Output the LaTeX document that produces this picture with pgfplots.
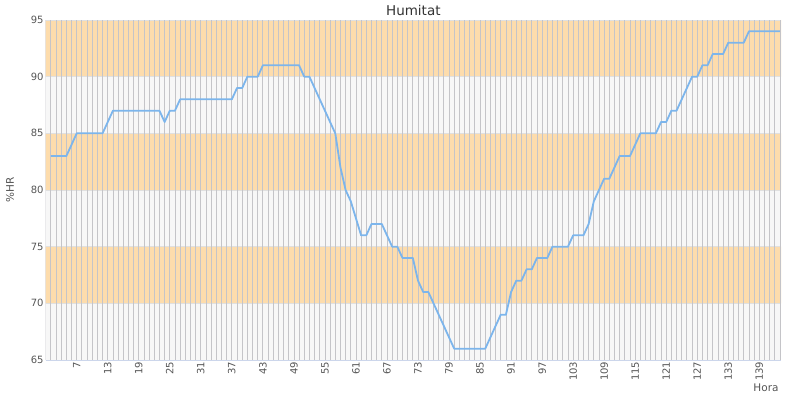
\documentclass[border=0pt]{standalone}
\usepackage{fontspec}
\setmainfont{DejaVu Sans}
\usepackage{pgfplots}
\pgfplotsset{compat=1.18}
\definecolor{bandorange}{RGB}{253,220,172}
\definecolor{bandgray}{RGB}{247,247,247}
\definecolor{vgrid}{RGB}{196,196,200}
\definecolor{hgrid}{RGB}{224,224,224}
\definecolor{linecol}{HTML}{7CB5EC}
\definecolor{titlecol}{HTML}{333333}
\definecolor{labcol}{HTML}{555555}
\definecolor{axiscol}{RGB}{204,214,235}
\begin{document}
\begin{tikzpicture}
\useasboundingbox (-45.7pt,-40pt) rectangle (754.3pt,360pt);
\begin{axis}[
  scale only axis,
  width=735.3pt, height=340pt,
  at={(0pt,0pt)}, anchor=south west,
  xmin=1, xmax=143.2, ymin=65, ymax=95,
  axis background/.style={fill=bandgray},
  axis line style={draw=none},
  xtick={7,13,...,139},
  ytick={65,70,...,95},
  major tick length=0pt,
  /pgf/number format/assume math mode=true,
  every tick label/.append style={font=\fontsize{10}{12}\selectfont, text=labcol},
  xticklabel style={rotate=90, anchor=east, inner sep=1.5pt},
  yticklabel style={anchor=east, inner sep=0pt, xshift=-2pt},
  title={Humitat},
  title style={at={(axis description cs:0.5,1)}, anchor=center, yshift=3.5pt, font=\fontsize{13.5}{15}\selectfont, text=titlecol},
  xlabel={Hora},
  xlabel style={at={(axis description cs:0.9796,-0.0824)}, anchor=center, font=\fontsize{10.5}{12}\selectfont, text=labcol},
  ylabel={\%HR},
  ylabel style={at={(axis description cs:-0.0486,0.5)}, anchor=center, font=\fontsize{10.5}{12}\selectfont, text=labcol},
]
\addplot[fill=bandorange, draw=none] coordinates {(1,70) (143.2,70) (143.2,75) (1,75) (1,70)};
\addplot[fill=bandorange, draw=none] coordinates {(1,80) (143.2,80) (143.2,85) (1,85) (1,80)};
\addplot[fill=bandorange, draw=none] coordinates {(1,90) (143.2,90) (143.2,95) (1,95) (1,90)};
\pgfplotsinvokeforeach{65,70,...,95}{\draw[hgrid, line width=0.8pt] (axis cs:1,#1) -- (axis cs:143.2,#1);}
\pgfplotsinvokeforeach{1,...,143}{\draw[vgrid, line width=0.8pt] (axis cs:#1,65) -- (axis cs:#1,95);}
\draw[axiscol, line width=0.8pt] (axis cs:1,65) -- (axis cs:143.2,65);
\addplot[color=linecol, line width=1.8pt, line join=round, mark=none] coordinates {
(2,83) (3,83) (4,83) (5,83) (6,84) (7,85) (8,85) (9,85) (10,85) (11,85) (12,85)
(13,86) (14,87) (15,87) (16,87) (17,87) (18,87) (19,87) (20,87) (21,87) (22,87) (23,87)
(24,86) (25,87) (26,87) (27,88) (28,88) (29,88) (30,88) (31,88) (32,88) (33,88) (34,88)
(35,88) (36,88) (37,88) (38,89) (39,89) (40,90) (41,90) (42,90) (43,91) (44,91) (45,91)
(46,91) (47,91) (48,91) (49,91) (50,91) (51,90) (52,90) (53,89) (54,88) (55,87) (56,86)
(57,85) (58,82) (59,80) (60,79) (61,77.5) (62,76) (63,76) (64,77) (65,77) (66,77) (67,76)
(68,75) (69,75) (70,74) (71,74) (72,74) (73,72) (74,71) (75,71) (76,70) (77,69) (78,68)
(79,67) (80,66) (81,66) (82,66) (83,66) (84,66) (85,66) (86,66) (87,67) (88,68) (89,69)
(90,69) (91,71) (92,72) (93,72) (94,73) (95,73) (96,74) (97,74) (98,74) (99,75) (100,75)
(101,75) (102,75) (103,76) (104,76) (105,76) (106,77) (107,79) (108,80) (109,81) (110,81)
(111,82) (112,83) (113,83) (114,83) (115,84) (116,85) (117,85) (118,85) (119,85) (120,86)
(121,86) (122,87) (123,87) (124,88) (125,89) (126,90) (127,90) (128,91) (129,91) (130,92)
(131,92) (132,92) (133,93) (134,93) (135,93) (136,93) (137,94) (138,94) (139,94) (140,94)
(141,94) (142,94) (143,94)
};
\end{axis}
\end{tikzpicture}
\end{document}
